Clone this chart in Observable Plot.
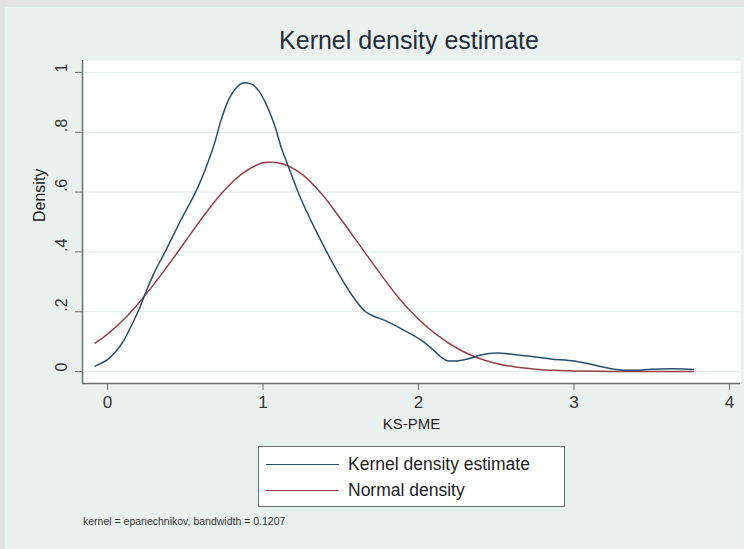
<!DOCTYPE html>
<html><head><meta charset="utf-8">
<script src="https://cdn.jsdelivr.net/npm/d3@7"></script>
<script src="https://cdn.jsdelivr.net/npm/@observablehq/plot@0.6"></script>
<style>
body{margin:0;background:#e3e3e3;font-family:"Liberation Sans",Arial,sans-serif;}
#wrap{position:relative;width:744px;height:549px;overflow:hidden;background:#e3e3e3}
#bg{position:absolute;left:5px;top:7px;right:0;bottom:0;background:#eaf2f0}
#chart{position:absolute;left:0;top:0}
#chart svg{background:transparent;overflow:visible}
#title{position:absolute;left:0;width:818px;top:25px;text-align:center;font-size:25px;line-height:30px;color:#1f2d3d}
#legend{position:absolute;left:258px;top:446px;width:305px;height:59px;border:1px solid #6e6e6e;background:#fff}
.lg{position:absolute;height:0;border-top:1.5px solid}
.lt{position:absolute;font-size:17.5px;line-height:20px;color:#222}
#note{position:absolute;left:83px;top:514px;font-size:10.5px;line-height:14px;color:#333}
</style></head>
<body>
<div id="wrap">
  <div id="bg"></div>
  <div id="chart"></div>
  <div id="title"></div>
  <div id="legend"></div>
  <div id="note"></div>
</div>
<script>
// ---- data ----
const chartTitle = "Kernel density estimate";
const xLabel = "KS-PME";
const yLabel = "Density";
const noteText = "kernel = epanechnikov, bandwidth = 0.1207";
const seriesNames = ["Kernel density estimate", "Normal density"];
const seriesColors = ["#24506d", "#963f49"];
const xTicks = [0, 1, 2, 3, 4];
const yTicks = [0, 0.2, 0.4, 0.6, 0.8, 1];
const yTickLabels = ["0", ".2", ".4", ".6", ".8", "1"];

const kdeX = [-0.08, 0, 0.05, 0.1, 0.15, 0.2, 0.25, 0.3, 0.375, 0.47, 0.58, 0.68, 0.73, 0.78, 0.83, 0.87, 0.93, 0.97, 1.01, 1.07, 1.12, 1.16, 1.25, 1.37, 1.5, 1.6, 1.66, 1.72, 1.78, 1.9, 2.02, 2.1, 2.18, 2.3, 2.4, 2.5, 2.6, 2.73, 2.85, 3.0, 3.1, 3.27, 3.4, 3.5, 3.65, 3.77];
const kdeY = [0.018, 0.04, 0.065, 0.1, 0.15, 0.205, 0.27, 0.33, 0.405, 0.505, 0.615, 0.75, 0.84, 0.91, 0.95, 0.965, 0.96, 0.94, 0.905, 0.83, 0.745, 0.69, 0.57, 0.44, 0.315, 0.235, 0.2, 0.183, 0.172, 0.14, 0.104, 0.07, 0.037, 0.04, 0.055, 0.062, 0.058, 0.05, 0.042, 0.035, 0.025, 0.007, 0.004, 0.008, 0.009, 0.007];

const normX = [-0.08, 0, 0.125, 0.25, 0.375, 0.5, 0.625, 0.75, 0.875, 1.0, 1.05, 1.125, 1.25, 1.375, 1.5, 1.625, 1.75, 1.875, 2.0, 2.125, 2.25, 2.375, 2.5, 2.625, 2.75, 2.875, 3.0, 3.25, 3.5, 3.77];
const normY = [0.095, 0.125, 0.185, 0.26, 0.345, 0.435, 0.525, 0.605, 0.665, 0.698, 0.70, 0.695, 0.66, 0.595, 0.51, 0.42, 0.33, 0.245, 0.175, 0.12, 0.077, 0.047, 0.027, 0.015, 0.008, 0.004, 0.002, 0.0005, 0.0, 0.0];

// ---- build ----
const kde = kdeX.map((x, i) => ({x, y: kdeY[i]}));
const norm = normX.map((x, i) => ({x, y: normY[i]}));
const xDom = [-0.161, 4.071];
const yDom = [-0.04, 1.04];
const axisColor = "#6e6e6e";

const plot = Plot.plot({
  width: 744, height: 549,
  marginLeft: 82, marginRight: 4, marginTop: 60, marginBottom: 166,
  style: {fontFamily: "Liberation Sans, Arial, sans-serif", background: "transparent", color: "#333"},
  x: {domain: xDom},
  y: {domain: yDom},
  marks: [
    Plot.frame({fill: "white", stroke: "none"}),
    Plot.gridY(yTicks, {stroke: "#e6efee", strokeOpacity: 1, strokeWidth: 1.2}),
    Plot.line(norm, {x: "x", y: "y", stroke: seriesColors[1], strokeWidth: 1.5, curve: "catmull-rom"}),
    Plot.line(kde, {x: "x", y: "y", stroke: seriesColors[0], strokeWidth: 1.5, curve: "catmull-rom"}),
    Plot.ruleX([xDom[0]], {stroke: axisColor, strokeWidth: 1.5}),
    Plot.ruleY([yDom[0]], {stroke: axisColor, strokeWidth: 1.5}),
    Plot.axisX({ticks: xTicks, tickSize: 7, tickPadding: 5, fontSize: 17, label: null, stroke: axisColor, tickFormat: d => String(d), color: "#333"}),
    Plot.axisY({ticks: yTicks, tickSize: 7, tickFormat: () => "", label: null, stroke: axisColor}),
    Plot.text(yTicks, {y: d => d, text: (d, i) => yTickLabels[i], frameAnchor: "left", dx: -21, rotate: -90, fontSize: 16, fill: "#333"}),
    Plot.text([yLabel], {frameAnchor: "left", dx: -43, rotate: -90, fontSize: 16, fill: "#222", text: d => d}),
    Plot.text([xLabel], {frameAnchor: "bottom", dy: 45, fontSize: 15, fill: "#222", text: d => d})
  ]
});
document.getElementById("chart").appendChild(plot);

document.getElementById("title").textContent = chartTitle;
document.getElementById("note").textContent = noteText;
const lg = document.getElementById("legend");
const rowsY = [17, 43];
seriesNames.forEach((name, i) => {
  const l = document.createElement("div");
  l.className = "lg";
  l.style.left = "7px"; l.style.width = "73px"; l.style.top = rowsY[i] + "px";
  l.style.borderTopColor = seriesColors[i];
  lg.appendChild(l);
  const t = document.createElement("div");
  t.className = "lt";
  t.style.left = "89px"; t.style.top = (rowsY[i] - 10) + "px";
  t.textContent = name;
  lg.appendChild(t);
});
</script>
</body></html>
